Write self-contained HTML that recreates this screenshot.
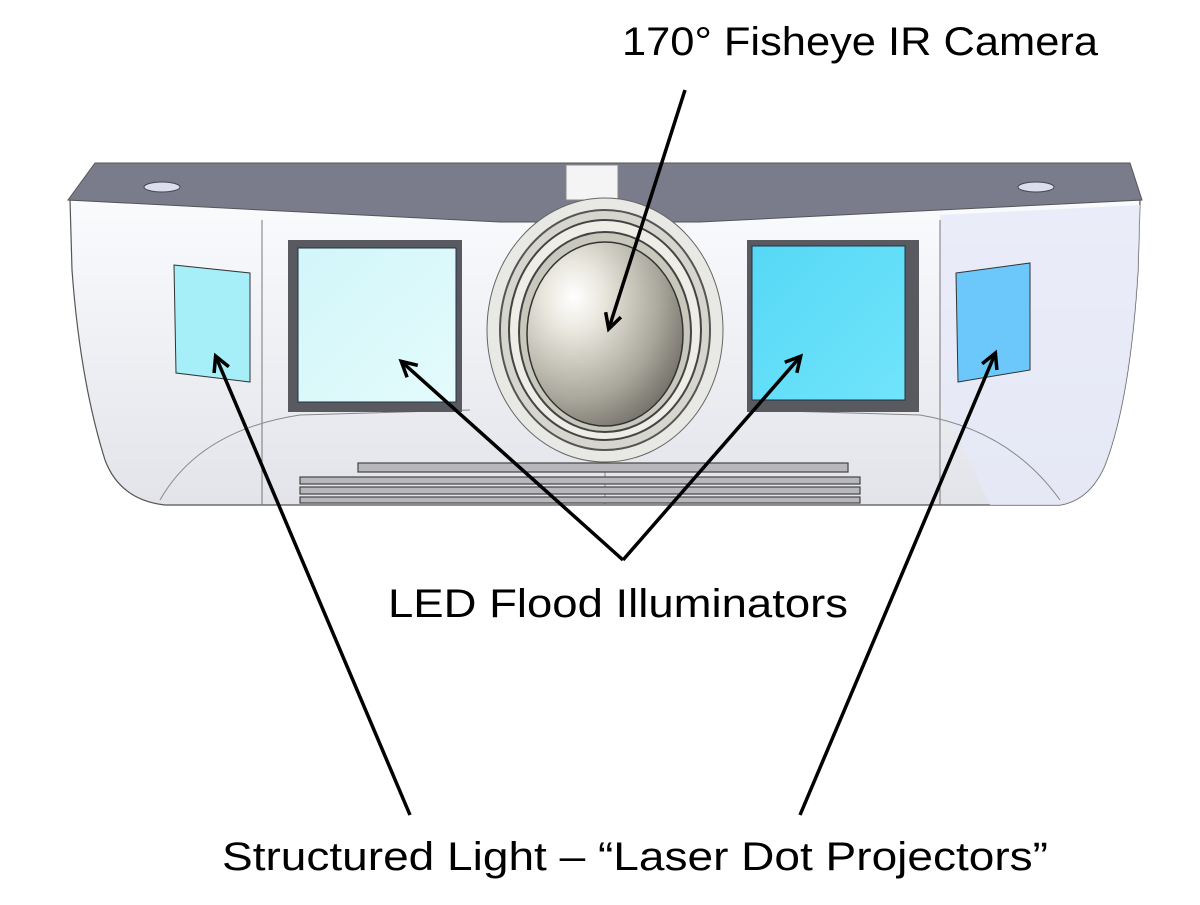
<!DOCTYPE html>
<html><head><meta charset="utf-8"><style>html,body{margin:0;padding:0;background:#fff}</style></head>
<body>
<svg width="1200" height="900" viewBox="0 0 1200 900" xmlns="http://www.w3.org/2000/svg">
<defs>
<linearGradient id="bodyg" x1="0" y1="0" x2="0" y2="1"><stop offset="0" stop-color="#fafbfd"/><stop offset="1" stop-color="#e2e4ea"/></linearGradient>
<linearGradient id="led1" x1="0" y1="0" x2="1" y2="1"><stop offset="0" stop-color="#d2f6fa"/><stop offset="1" stop-color="#e4fbfb"/></linearGradient>
<linearGradient id="led2" x1="0" y1="0" x2="1" y2="1"><stop offset="0" stop-color="#56d8f6"/><stop offset="1" stop-color="#70e4fb"/></linearGradient>
<radialGradient id="ball" cx="0.3" cy="0.3" r="0.8"><stop offset="0" stop-color="#ffffff"/><stop offset="0.25" stop-color="#e8e6dc"/><stop offset="0.7" stop-color="#a8a69a"/><stop offset="1" stop-color="#706e66"/></radialGradient>
<marker id="ah" markerWidth="20" markerHeight="20" refX="15" refY="10" orient="auto" markerUnits="userSpaceOnUse" viewBox="0 0 20 20"><path d="M1,2 L16,10 L1,18" fill="none" stroke="#000" stroke-width="3.5"/></marker>
</defs>
<path d="M70,200 L1140,200 L1138,270 Q1130,400 1105,465 Q1090,500 1060,505 L165,505 Q120,500 105,460 Q80,380 72,270 Z" fill="url(#bodyg)" stroke="#555" stroke-width="1.2"/>
<path d="M940,215 L1140,205 L1138,270 Q1130,400 1105,465 Q1090,500 1060,505 L990,505 Q950,420 940,400 Z" fill="#e6e8f8" opacity="0.8"/>
<line x1="262" y1="220" x2="262" y2="505" stroke="#777" stroke-width="1"/>
<line x1="940" y1="220" x2="940" y2="505" stroke="#777" stroke-width="1"/>
<path d="M160,500 Q200,430 300,415 L470,410" fill="none" stroke="#888" stroke-width="1"/>
<path d="M1060,500 Q1010,430 920,415 L750,410" fill="none" stroke="#888" stroke-width="1"/>
<path d="M95,163 L1130,163 L1142,200 L940,210 L700,222 L500,222 L262,210 L68,200 Z" fill="#7a7c8c" stroke="#555" stroke-width="1"/>
<rect x="566" y="165" width="52" height="35" fill="#f4f4f4" stroke="#888"/>
<ellipse cx="162" cy="187" rx="18" ry="5" fill="#dde" stroke="#445"/>
<ellipse cx="1036" cy="187" rx="18" ry="5" fill="#dde" stroke="#445"/>
<polygon points="174,265 250,273 250,382 176,373" fill="#a6eef8" stroke="#333" stroke-width="1"/>
<polygon points="956,273 1030,263 1030,370 958,382" fill="#6cc8fa" stroke="#333" stroke-width="1"/>
<rect x="288" y="240" width="174" height="172" fill="#585a60"/>
<rect x="298" y="248" width="158" height="154" fill="url(#led1)" stroke="#234" stroke-width="1"/>
<rect x="747" y="240" width="172" height="172" fill="#585a60"/>
<rect x="752" y="246" width="153" height="154" fill="url(#led2)" stroke="#234" stroke-width="1"/>
<ellipse cx="605" cy="330" rx="118" ry="132" fill="#e8e8e4" stroke="#666"/>
<ellipse cx="605" cy="330" rx="105" ry="120" fill="#d6d6ce" stroke="#555" stroke-width="2"/>
<ellipse cx="605" cy="330" rx="96" ry="110" fill="#eeeee6" stroke="#444" stroke-width="2"/>
<ellipse cx="605" cy="332" rx="86" ry="100" fill="#c8c8bc" stroke="#444" stroke-width="2"/>
<ellipse cx="605" cy="334" rx="78" ry="92" fill="url(#ball)" stroke="#333" stroke-width="1.5"/>
<line x1="605" y1="462" x2="605" y2="505" stroke="#888"/>
<g fill="#b8b8bc" stroke="#444" stroke-width="1.2">
<rect x="358" y="463" width="490" height="9"/>
<rect x="300" y="477" width="560" height="7"/>
<rect x="300" y="487" width="560" height="7"/>
<rect x="300" y="497" width="560" height="6"/>
</g>
<g stroke="#000" stroke-width="3.5" fill="none" marker-end="url(#ah)">
<line x1="685" y1="90" x2="609" y2="328"/>
<line x1="623" y1="560" x2="402" y2="362"/>
<line x1="623" y1="560" x2="800" y2="357"/>
<line x1="410" y1="815" x2="216" y2="357"/>
<line x1="800" y1="815" x2="995" y2="354"/>
</g>
<g font-family="'Liberation Sans', sans-serif" font-size="40" fill="#000">
<text x="622" y="55" textLength="476" lengthAdjust="spacingAndGlyphs">170° Fisheye IR Camera</text>
<text x="388" y="617" textLength="460" lengthAdjust="spacingAndGlyphs">LED Flood Illuminators</text>
<text x="222" y="870" textLength="826" lengthAdjust="spacingAndGlyphs">Structured Light – “Laser Dot Projectors”</text>
</g>
</svg>
</body></html>
